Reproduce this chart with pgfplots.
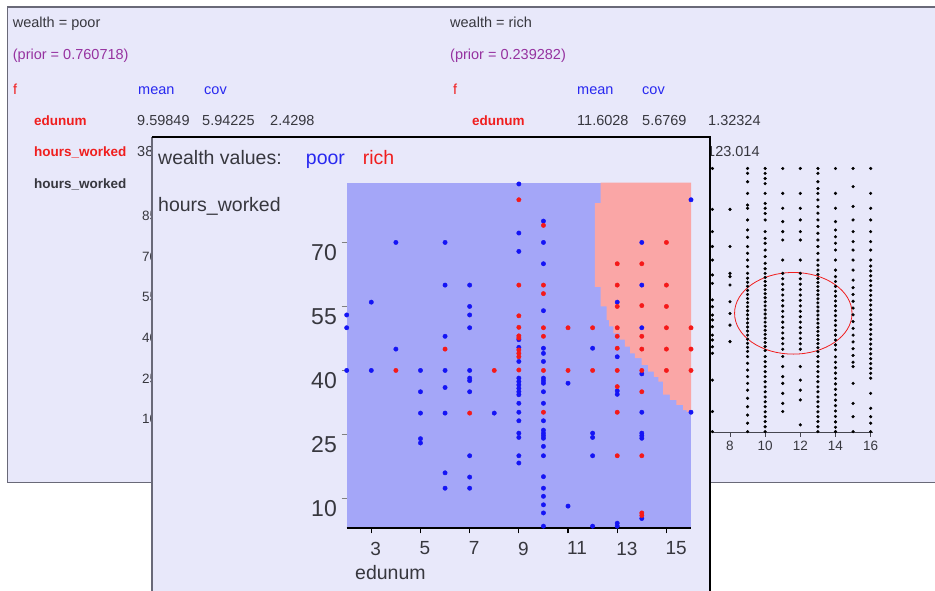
\documentclass[border=0pt]{standalone}
\usepackage{pgfplots}
\pgfplotsset{compat=1.18}
\usepackage{fontspec}
\setmainfont{Liberation Sans}
\definecolor{panelbg}{RGB}{232,232,250}
\definecolor{bluefill}{RGB}{164,166,248}
\definecolor{pinkfill}{RGB}{250,166,166}
\definecolor{ptblue}{RGB}{20,20,245}
\definecolor{ptred}{RGB}{245,25,25}
\definecolor{txtgray}{RGB}{55,55,62}
\definecolor{borderg}{RGB}{105,105,120}
\definecolor{axisg}{RGB}{70,70,80}
\definecolor{purp}{RGB}{150,50,160}
\definecolor{txtblue}{RGB}{40,40,240}
\definecolor{txtred}{RGB}{240,30,30}
\newcommand{\bigf}{\fontsize{19.5}{22}\selectfont}
\newcommand{\ylf}{\fontsize{23}{25}\selectfont}
\newcommand{\xlf}{\fontsize{19}{21}\selectfont}
\newcommand{\smf}{\fontsize{14.5}{17}\selectfont}
\newcommand{\smbf}{\fontsize{13.5}{16}\selectfont\bfseries}
\newcommand{\tkf}{\fontsize{13.5}{15}\selectfont}
\begin{document}
\begin{tikzpicture}[x=1pt,y=1pt]
\fill[white] (0,0) rectangle (935,591);
% back panel
\fill[panelbg] (7.5,108.5) rectangle (940,584);
\draw[borderg, line width=1.5pt] (940,584) -- (7.5,584) -- (7.5,108.5) -- (940,108.5);
% back panel texts (left)
\node[anchor=base west, inner sep=0pt, font=\smf, text=txtgray] at (12.7,563) {wealth = poor};
\node[anchor=base west, inner sep=0pt, font=\smf, text=purp] at (12.7,531) {(prior = 0.760718)};
\node[anchor=base west, inner sep=0pt, font=\smf, text=txtred] at (13,496) {f};
\node[anchor=base west, inner sep=0pt, font=\smf, text=txtblue] at (138,496) {mean};
\node[anchor=base west, inner sep=0pt, font=\smf, text=txtblue] at (204,496) {cov};
\node[anchor=base west, inner sep=0pt, font=\smbf, text=txtred] at (34,465) {edunum};
\node[anchor=base west, inner sep=0pt, font=\smf, text=txtgray] at (137,465) {9.59849};
\node[anchor=base west, inner sep=0pt, font=\smf, text=txtgray] at (202,465) {5.94225};
\node[anchor=base west, inner sep=0pt, font=\smf, text=txtgray] at (270,465) {2.4298};
\node[anchor=base west, inner sep=0pt, font=\smbf, text=txtred] at (34,434) {hours\_worked};
\node[anchor=base west, inner sep=0pt, font=\smf, text=txtgray] at (137,434) {38};
\node[anchor=base west, inner sep=0pt, font=\smbf, text=txtgray] at (34,402) {hours\_worked};
% back panel texts (right)
\node[anchor=base west, inner sep=0pt, font=\smf, text=txtgray] at (450,563) {wealth = rich};
\node[anchor=base west, inner sep=0pt, font=\smf, text=purp] at (450,531) {(prior = 0.239282)};
\node[anchor=base west, inner sep=0pt, font=\smf, text=txtred] at (453,496) {f};
\node[anchor=base west, inner sep=0pt, font=\smf, text=txtblue] at (577,496) {mean};
\node[anchor=base west, inner sep=0pt, font=\smf, text=txtblue] at (642,496) {cov};
\node[anchor=base west, inner sep=0pt, font=\smbf, text=txtred] at (472,465) {edunum};
\node[anchor=base west, inner sep=0pt, font=\smf, text=txtgray] at (577,465) {11.6028};
\node[anchor=base west, inner sep=0pt, font=\smf, text=txtgray] at (642,465) {5.6769};
\node[anchor=base west, inner sep=0pt, font=\smf, text=txtgray] at (708,465) {1.32324};
\node[anchor=base west, inner sep=0pt, font=\smf, text=txtgray] at (707,434) {123.014};
% poor-side scatter axis (only its tick labels show)
\begin{axis}[at={(165pt,158.3pt)}, anchor=south west, scale only axis,
  width=160pt, height=271pt, xmin=7, xmax=16.15, ymin=5, ymax=105,
  hide x axis, axis y line=left, axis line style={-}, y axis line style={draw=none},
  ytick={10,25,40,55,70,85}, yticklabels={10,25,40,55,70,85},
  major tick length=0pt, ytick style={draw=none},
  yticklabel style={font=\tkf, text=txtgray, anchor=west, inner sep=0pt, xshift=-23pt}]
\end{axis}
% rich-side scatter axis
\begin{axis}[at={(712.4pt,158.3pt)}, anchor=south west, scale only axis,
  width=160.9pt, height=271pt, xmin=7, xmax=16.15, ymin=5, ymax=105,
  axis x line=bottom, axis y line=left, axis line style={-},
  y axis line style={draw=none}, ytick=\empty,
  x axis line style={axisg, line width=0.9pt},
  xtick={8,10,12,14,16}, xticklabels={8,10,12,14,16},
  tick align=outside, major tick length=4pt,
  xtick style={axisg, line width=0.8pt},
  xticklabel style={font=\tkf, text=txtgray, inner sep=0pt, anchor=north, yshift=-4pt},
  clip=false]
\addplot[only marks, mark=*, mark size=1.4pt, black] coordinates {
(7,102.5)(7,87.4)(7,79.2)(7,73.7)(7,68.7)(7,63.2)(7,60.1)(7,54)(7,51.5)(7,48.4)(7,46.6)(7,44.1)(7,41)(7,39.2)(7,36.7)(7,34.3)(7,24.4)(7,12.8)(7,5.4)
(8,87.4)(8,73.7)(8,63.8)(8,62.6)(8,59.5)(8,53.3)(8,49)(8,44.7)(8,38.6)
(9,102.5)(9,100.7)(9,97.6)(9,93.3)(9,89)(9,87.8)(9,83.5)(9,79.8)(9,77.1)(9,73.7)(9,71.2)(9,68.7)(9,66.3)(9,63.8)(9,62)(9,60.5)(9,59)(9,57.5)(9,56)(9,54.5)(9,53)(9,51.5)(9,50)(9,48.5)(9,47)(9,45.5)(9,44)(9,42.5)(9,41)(9,39.5)(9,38)(9,36.5)(9,35)(9,33.1)(9,30.6)(9,28.1)(9,25.7)(9,23.2)(9,20.7)(9,17.7)(9,14.6)(9,11.5)(9,8.5)(9,5.4)
(10,102.5)(10,100.7)(10,98.8)(10,96.9)(10,93.3)(10,89.6)(10,87.8)(10,85.9)(10,83.5)(10,79.2)(10,76.7)(10,74.9)(10,72.4)(10,70)(10,67.5)(10,65.5)(10,63.8)(10,62.3)(10,60.8)(10,59.3)(10,57.8)(10,56.3)(10,54.8)(10,53.3)(10,51.8)(10,50.3)(10,48.8)(10,47.3)(10,45.8)(10,44.3)(10,42.8)(10,41.3)(10,39.8)(10,38.3)(10,36.8)(10,35.3)(10,33.1)(10,31.2)(10,29.4)(10,27.5)(10,25.7)(10,23.8)(10,21.9)(10,20.1)(10,18.2)(10,16.4)(10,14.6)(10,12.7)(10,10.9)(10,9.1)(10,7.2)(10,5.4)
(11,102.5)(11,93.3)(11,87.8)(11,82.9)(11,79.2)(11,76.1)(11,68.7)(11,63.8)(11,61.8)(11,59.8)(11,57.8)(11,55.8)(11,53.8)(11,51.8)(11,49.8)(11,47.8)(11,45.8)(11,43.8)(11,41.8)(11,39.8)(11,37.8)(11,35.8)(11,33.1)(11,29.4)(11,25.7)(11,23.2)(11,19.5)(11,15.8)(11,12.8)
(12,102.5)(12,93.3)(12,87.8)(12,83.5)(12,79.2)(12,76.1)(12,68.7)(12,63.8)(12,61.8)(12,59.8)(12,57.8)(12,55.8)(12,53.8)(12,51.8)(12,49.8)(12,47.8)(12,45.8)(12,43.8)(12,41.8)(12,39.8)(12,37.8)(12,35.8)(12,29.4)(12,24.4)(12,20.7)(12,17.1)(12,7.9)
(13,102.5)(13,100.7)(13,97.6)(13,95.1)(13,93.3)(13,90.9)(13,88.4)(13,86)(13,83.5)(13,81.1)(13,78.6)(13,76.1)(13,73.7)(13,71.2)(13,68.7)(13,66.8)(13,65)(13,63.4)(13,61.9)(13,60.4)(13,58.9)(13,57.4)(13,55.9)(13,54.4)(13,52.9)(13,51.4)(13,49.9)(13,48.4)(13,46.9)(13,45.4)(13,43.9)(13,42.4)(13,40.9)(13,39.4)(13,37.9)(13,36.4)(13,34.9)(13,33.1)(13,31.2)(13,29.4)(13,27.5)(13,25.7)(13,23.8)(13,21.9)(13,20.1)(13,18.2)(13,16.4)(13,14.6)(13,12.7)(13,10.9)(13,9.1)(13,7.2)(13,5.4)
(14,102.5)(14,93.3)(14,87.8)(14,82.9)(14,79.8)(14,77.3)(14,74.9)(14,72.4)(14,68.7)(14,65)(14,62.6)(14,60.8)(14,59)(14,57.2)(14,55.4)(14,53.6)(14,51.8)(14,50)(14,48.2)(14,46.4)(14,44.6)(14,42.8)(14,41)(14,39.2)(14,37.4)(14,35.6)(14,33)(14,31)(14,29)(14,27)(14,25)(14,23)(14,21)(14,19)(14,17)(14,15)(14,13)(14,11)(14,9)(14,7)(14,5.4)
(15,102.5)(15,95.8)(15,88.5)(15,83.5)(15,79.2)(15,75.5)(15,72.4)(15,68.7)(15,65)(15,61.3)(15,58.5)(15,56)(15,53.5)(15,51)(15,48.5)(15,46)(15,43.5)(15,41)(15,38.5)(15,36)(15,33.5)(15,31)(15,29.4)(15,23.2)(15,15.8)(15,10.9)(15,5.4)
(16,102.5)(16,93.3)(16,87.8)(16,83.5)(16,79.2)(16,75.5)(16,72.4)(16,68.7)(16,66.5)(16,64.7)(16,62.9)(16,61.1)(16,59.3)(16,57.5)(16,55.7)(16,53.9)(16,52.1)(16,50.3)(16,48.5)(16,46.7)(16,44.9)(16,43.1)(16,41.3)(16,39.5)(16,37.7)(16,35.9)(16,34.1)(16,32.3)(16,30.5)(16,28.7)(16,26.9)(16,25.1)(16,19.5)(16,14)(16,10.9)(16,8.5)(16,5.4)
};
\draw[txtred, line width=0.8pt] (axis cs:11.6,49.06) ellipse [x radius=3.34, y radius=15.06];
\end{axis}
% front panel
\fill[panelbg] (152,-5) rectangle (710,454);
\draw[borderg, line width=1.5pt] (152,-5) -- (152,454);
\draw[black, line width=1.8pt] (152,454) -- (710,454) -- (710,-5);
% main axis
\begin{axis}[at={(346.7pt,62.7pt)}, anchor=south west, scale only axis,
  width=344.3pt, height=345.6pt,
  xmin=2, xmax=16, ymin=3, ymax=84,
  axis background/.style={fill=bluefill},
  axis x line=bottom, axis y line=left, axis line style={-},
  x axis line style={black, line width=1.6pt},
  y axis line style={draw=none},
  xtick={3,5,7,9,11,13,15}, xticklabels={3,5,7,9,11,13,15},
  ytick={10,25,40,55,70}, yticklabels={10,25,40,55,70},
  tick align=outside, major tick length=5pt,
  xtick style={black, line width=1.2pt},
  ytick style={gray, line width=0.8pt},
  xticklabel style={font=\xlf, text=txtgray, anchor=north west, inner sep=0pt, xshift=-1pt, yshift=-8.4pt},
  yticklabel style={font=\ylf, text=txtgray, anchor=north east, inner sep=0pt, xshift=-4.7pt, yshift=-2.3pt},
  xlabel={edunum}, ylabel={hours\_worked},
  every axis x label/.style={at={(rel axis cs:0.024,-0.1496)}, anchor=base west, inner sep=0pt, font=\bigf, text=txtgray},
  every axis y label/.style={at={(rel axis cs:-0.548,0.9152)}, anchor=base west, inner sep=0pt, font=\bigf, text=txtgray},
  title={\makebox[147.7pt][l]{\textcolor{txtgray}{wealth values:}}\makebox[57pt][l]{\textcolor{txtblue}{poor}}\textcolor{txtred}{rich}},
  every axis title/.style={at={(rel axis cs:-0.548,1.054)}, anchor=base west, inner sep=0pt, font=\bigf},
  clip=false]
\addplot[fill=pinkfill, draw=none, forget plot] coordinates {
(16,84)(12.33,84)(12.33,79.2)(12.09,79.2)(12.09,59.6)(12.33,59.6)(12.33,55)(12.57,55)(12.57,51.8)(12.67,51.8)(12.67,50.3)(12.84,50.3)(12.84,48.7)(13.11,48.7)(13.11,47.2)(13.31,47.2)(13.31,45.6)(13.52,45.6)(13.52,44)(13.72,44)(13.72,42.9)(13.99,42.9)(13.99,41.3)(14.26,41.3)(14.26,39.7)(14.49,39.7)(14.49,38.5)(14.67,38.5)(14.67,37.4)(14.87,37.4)(14.87,34.3)(15.14,34.3)(15.14,33.1)(15.41,33.1)(15.41,31.9)(15.68,31.9)(15.68,30.7)(15.82,30.7)(15.82,30.3)(16,30.3)
} -- cycle;
\addplot[only marks, mark=*, mark size=2.2pt, ptblue] coordinates {
(2,53)(2,50)(2,40)
(3,56)(3,40)
(4,70)(4,45)
(5,40)(5,35)(5,30)(5,24)(5,23)
(6,70)(6,60)(6,48)(6,40)(6,36)(6,30)(6,16)(6,12.4)
(7,60)(7,55)(7,53)(7,50)(7,40)(7,38.2)(7,37.6)(7,35)(7,20)(7,15)(7,12.4)
(8,30)
(9,83.7)(9,72.2)(9,67.9)(9,47.2)(9,45.4)(9,42.1)(9,38.2)(9,37.4)(9,36.6)(9,35.8)(9,35)(9,34.3)(9,32.3)(9,30.2)(9,28.2)(9,25.3)(9,24.3)(9,20)(9,18.3)
(10,75)(10,70)(10,65)(10,54)(10,45.2)(10,44)(10,42.1)(10,38.2)(10,37.6)(10,37)(10,35)(10,32.3)(10,28.2)(10,26)(10,25.3)(10,24.7)(10,24.1)(10,22.2)(10,20)(10,15.1)(10,12.4)(10,10.5)(10,8.5)(10,6.6)(10,3.5)
(11,37)(11,8.2)
(12,45.2)(12,25.3)(12,24.3)(12,20)(12,3.5)
(13,56)(13,43.2)(13,35.2)(13,34.4)(13,4.2)(13,3.5)
(14,70)(14,60)(14,50)(14,39.2)(14,30.2)(14,25.3)(14,24.7)(14,24.1)(14,5.3)
(16,80)(16,30.2)
};
\addplot[only marks, mark=*, mark size=2.2pt, ptred] coordinates {
(4,40)(6,45)(7,30)(8,40)
(9,80)(9,60)(9,52.8)(9,50.1)(9,48.1)(9,47.6)(9,44.8)(9,44)(9,43.2)(9,40.1)
(10,74)(10,60)(10,58)(10,50)(10,48)(10,40)(10,30.2)
(11,50)(11,40)
(12,50)(12,40)
(13,65)(13,60)(13,55)(13,50)(13,48)(13,45.2)(13,40)(13,36.2)(13,30.2)(13,20)
(14,65)(14,55.2)(14,48)(14,45)(14,40)(14,35)(14,20)(14,6.6)(14,6)
(15,70)(15,60)(15,55)(15,50)(15,45)(15,40)
(16,50)(16,45)(16,40)
};
\end{axis}
\pgfresetboundingbox
\useasboundingbox (0,0) rectangle (935,591);
\end{tikzpicture}
\end{document}
